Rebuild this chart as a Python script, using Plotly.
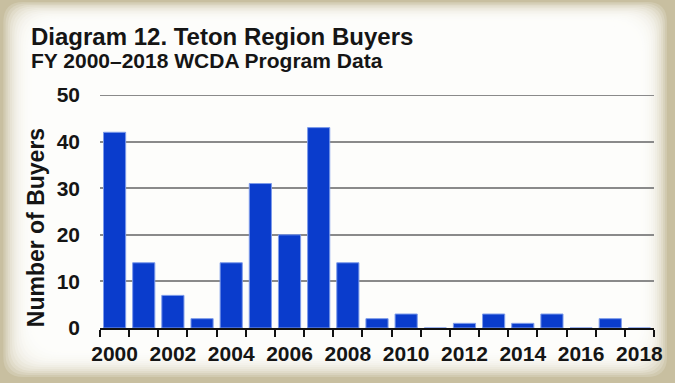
import plotly.graph_objects as go

years = list(range(2000, 2019))
buyers = [42, 14, 7, 2, 14, 31, 20, 43, 14, 2, 3, 0, 1, 3, 1, 3, 0, 2, 0]
tick_years = list(range(2000, 2019, 2))
y_ticks = [0, 10, 20, 30, 40, 50]

title_text = "Diagram 12. Teton Region Buyers"
subtitle_text = "FY 2000\u20132018 WCDA Program Data"
ytitle_text = "Number of Buyers"

W, H = 675, 383
L, R, T, B = 100, 19, 95, 55
PW, PH = W - L - R, H - T - B


def px(x):
    return (x - L) / PW


def py(y):
    return (H - B - y) / PH


def rrect(x0, y0, x1, y1, r):
    rx, ry = r / PW, r / PH
    X0, X1 = px(x0), px(x1)
    Y0, Y1 = py(y0), py(y1)
    return (f"M {X0+rx},{Y0} L {X1-rx},{Y0} Q {X1},{Y0} {X1},{Y0-ry} "
            f"L {X1},{Y1+ry} Q {X1},{Y1} {X1-rx},{Y1} L {X0+rx},{Y1} "
            f"Q {X0},{Y1} {X0},{Y1+ry} L {X0},{Y0-ry} Q {X0},{Y0} {X0+rx},{Y0} Z")


beige = (200, 191, 160)
white = (253, 253, 251)
shapes = []
N = 16
for i in range(N):
    t = (i + 1) / N
    e = 1 - (1 - t) ** 3.0
    c = tuple(int(round(beige[k] + (white[k] - beige[k]) * e)) for k in range(3))
    l = 3 + i * 2.2
    tp = 2 + i * 1.5
    rr = 6 + i * 2.0
    bb = 6 + i * 2.0
    shapes.append(dict(type="path", xref="paper", yref="paper",
                       path=rrect(l, tp, W - rr, H - bb, 20 + i * 1.2),
                       fillcolor=f"rgb{c}", line=dict(width=0), layer="below"))

# top gridline at 50 (edge of range)
shapes.append(dict(type="line", xref="paper", yref="y", x0=0, x1=1, y0=50, y1=50,
                   line=dict(color="#8a8a8a", width=2), layer="below"))

fig = go.Figure(go.Bar(
    x=years, y=buyers,
    marker=dict(color="#0A3CCC", line=dict(color="#7d9bea", width=1)),
    width=0.76,
))

fig.update_layout(
    width=W, height=H,
    margin=dict(l=L, r=R, t=T, b=B),
    paper_bgcolor="rgb(200,191,160)",
    plot_bgcolor="rgba(0,0,0,0)",
    showlegend=False,
    shapes=shapes,
    font=dict(family="Liberation Sans, Arial, sans-serif", color="#151515"),
    xaxis=dict(
        range=[1999.5, 2018.5], tickvals=tick_years, ticktext=[str(v) for v in tick_years],
        ticks="", showgrid=False, showline=True, linecolor="#111111", linewidth=2,
        tickfont=dict(size=21, weight="bold"), ticklabelstandoff=6,
        minor=dict(tickvals=[v - 0.5 for v in years] + [2018.5], ticks="outside",
                   ticklen=7, tickwidth=2, tickcolor="#111111", showgrid=False),
        fixedrange=True,
    ),
    yaxis=dict(
        range=[0, 50], tickvals=y_ticks, showgrid=True, gridcolor="#8a8a8a", gridwidth=2,
        zeroline=False, showline=False, ticks="",
        tickfont=dict(size=21, weight="bold"), ticklabelstandoff=19,
        fixedrange=True,
    ),
    annotations=[
        dict(text=title_text, xref="paper", yref="paper", x=px(29), y=py(36),
             xanchor="left", yanchor="middle", showarrow=False,
             font=dict(size=24, weight="bold", color="#151515")),
        dict(text=subtitle_text, xref="paper", yref="paper", x=px(29), y=py(60),
             xanchor="left", yanchor="middle", showarrow=False,
             font=dict(size=21, weight="bold", color="#151515")),
        dict(text=ytitle_text, xref="paper", yref="paper", x=px(36), y=py(228),
             xanchor="center", yanchor="middle", showarrow=False, textangle=-90,
             font=dict(size=23, weight="bold", color="#151515")),
    ],
)

fig.write_html("out.html")
